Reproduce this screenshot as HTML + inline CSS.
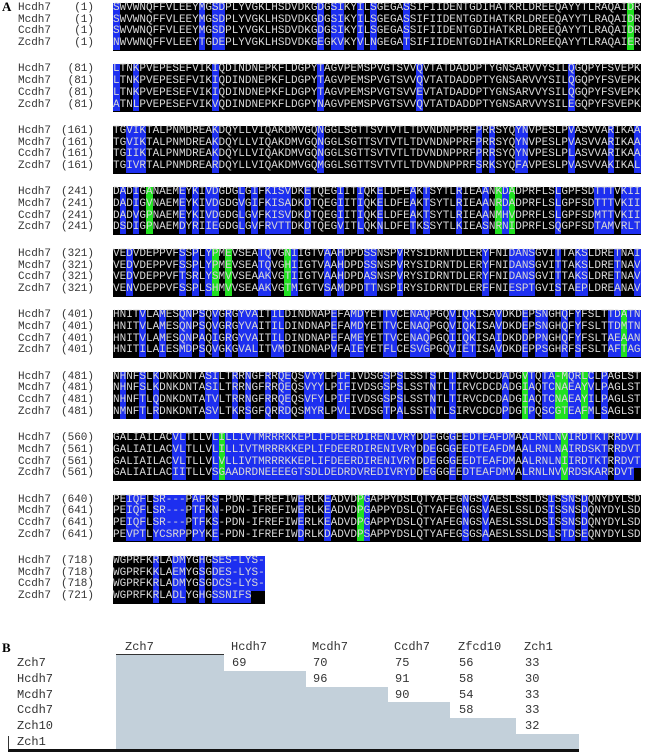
<!DOCTYPE html>
<html><head><meta charset="utf-8">
<style>
body{margin:0;width:646px;height:752px;background:#fff;position:relative;overflow:hidden;font-family:"Liberation Mono",monospace;}
.abs{position:absolute;white-space:pre;}
.lbl{font-size:11px;color:#333;line-height:11.7px;}
.band{position:absolute;background:#000;}
.seq{position:absolute;font-size:11px;line-height:11.7px;color:#d8d8d8;white-space:pre;}
.seq span{display:inline-block;width:6.6px;}
.b{background:#1d2ff0;}
.g{background:#20e020;}
.tb{font-size:12px;color:#333;}
</style></head><body>
<div class="abs" style="left:2px;top:-1px;font-family:'Liberation Serif',serif;font-weight:bold;font-size:13px;">A</div>
<div id="panelA"></div>
<div class="abs" style="left:2px;top:640px;font-family:'Liberation Serif',serif;font-weight:bold;font-size:13px;">B</div>
<div id="panelB"></div>
<script>
const names=["Hcdh7","Mcdh7","Ccdh7","Zcdh7"];
const starts=[["1","1","1","1"],["81","81","81","81"],["161","161","161","161"],["241","241","241","241"],["321","321","321","321"],["401","401","401","401"],["481","481","481","481"],["560","561","561","561"],["640","641","641","641"],["718","718","718","721"]];
const blocks=[
["SWVWNQFFVLEEYMGSDPLYVGKLHSDVDKGDGSIKYILSGEGASSIFIIDENTGDIHATKRLDREEQAYYTLRAQAIDR",
"SWVWNQFFVLEEYMGSDPLYVGKLHSDVDKGDGSIKYILSGEGASSIFIIDENTGDIHATKRLDREEQAYYTLRAQAIDR",
"SWVWNQFFVLEEYMGSDPLYVGKLHSDVDKGDGSIKYILSGEGASSIFIIDENTGDIHATKRLDREEQAYYTLRAQAIDR",
"NWVWNQFFVLEEYTGDEPLYVGKLHSDVDKGEGKVKYVLNGEGATSIFIIDENTGDIHATKRLDREEQAYYTLRAQAIER"],
["LTNKPVEPESEFVIKIQDINDNEPKFLDGPYTAGVPEMSPVGTSVVQVTATDADDPTYGNSARVVYSILQGQPYFSVEPK",
"LTNKPVEPESEFVIKIQDINDNEPKFLDGPYTAGVPEMSPVGTSVVQVTATDADDPTYGNSARVVYSILQGQPYFSVEPK",
"LTNKPVEPESEFVIKIQDINDNEPKFLDGPYTAGVPEMSPVGTSVVEVTATDADDPTYGNSARVVYSILQGQPYFSVEPK",
"ATNLPVEPESEFVIKVQDINDNEPKFLDGPYNAGVPEMSPVGTSVVQVTATDADDPTYGNSARVVYSILEGQPYFSVEPK"],
["TGVIKTALPNMDREAKDQYLLVIQAKDMVGQNGGLSGTTSVTVTLTDVNDNPPRFPRRSYQYNVPESLPVASVVARIKAA",
"TGVIKTALPNMDREAKDQYLLVIQAKDMVGQNGGLSGTTSVTVTLTDVNDNPPRFPRRSYQYNVPESLPVASVVARIKAA",
"TGIIKTALPNMDREAKDQYLLVIQAKDMVGQNGGLSGTTSVTVTLTDVNDNPPRFPRRSYQYNVPESLPLASVVARIKAA",
"TGIVRTALPNMDREARDQYLLVIQAKDMVGQMGGLSGTTSVTVTLTDVNDNPPRFSRKSYQFAVPESLPVASVVAKIKAL"],
["DADIGANAEMEYKIVDGDGLGIFKISVDKETQEGIITIQKELDFEAKTSYTLRIEAANKDADPRFLSLGPFSDTTTVKII",
"DADIGVNAEMEYKIVDGDGVGIFKISADKDTQEGIITIQKELDFEAKTSYTLRIEAANRDADPRFLSLGPFSDTTTVKII",
"DADVGPNAEMEYKIVDGDGLGVFKISVDKDTQEGIITIQKELDFEAKTSYTLRIEAANMHVDPRFLSLGPFSDMTTVKII",
"DSDIGPNAEMDYRIIEGDGLGVFRVTTDKDTQEGVITLQKNLDFETKSSYTLKIEASNRNIDPRFLSQGPFSDTAMVRLT"],
["VEDVDEPPVFSSPLYPMEVSEATQVGNIIGTVAAHDPDSSNSPVRYSIDRNTDLERYFNIDANSGVITTAKSLDRETNAI",
"VEDVDEPPVFSSPLYPMEVSEATQVGHIIGTVAAHDPDSSNSPVRYSIDRNTDLERYFNIDANSGVITTAKSLDRETNAV",
"VEDVDEPPVFTSRLYSMVVSEAAKVGTIIGTVAAHDPDASNSPVRYSIDRNTDLERYFNIDANSGVITTAKSLDRETNAV",
"VENVDEPPVFSSPLSHMVVSEAAKVGTMIGTVSAMDPDTTNSPIRYSIDRNTDLERFFNIESPTGVISTAEPLDREANAV"],
["HNITVLAMESQNPSQVGRGYVAITILDINDNAPEFAMDYETTVCENAQPGQVIQKISAVDKDEPSNGHQFYFSLTTDATN",
"HNITVLAMESQNPSQVGRGYVAITILDINDNAPEFAMDYETTVCENAQPGQVIQKISAVDKDEPSNGHQFYFSLTTDMTN",
"HNITVLAMESQNPAQIGRGYVAITILDINDNAPEFAMEYETTVCENAQPGQIIQKISAIDKDDPPNGHQFYFSLTAEAAN",
"HNITILAIESMDPSQVGKGVALITVMDINDNAPVFAIEYETFLCESVGPGQVIETISAVDKDEPPSGHRFSFSLTAFTAG"],
["NHNFSLKDNKDNTASILTRRNGFRRQEQSVYYLPIFIVDSGSPSLSSTSTLTIRVCDCDADGVTQTA-MQRLCLPAGLST",
"NHNFSLKDNKDNTASILTRRNGFRRQEQSVYYLPIFIVDSGSPSLSSTNTLTIRVCDCDADGIAQTCNAEAYVLPAGLST",
"NHNFTLQDNKDNTATVLTRRNGFRRQEQSVFYLPIFIVDSGSPSLSSTNTLTIRVCDCDADGIAQTCNAEAYILPAGLST",
"NMNFTLRDNKDNTASVLTKRSGFQRRDQSMYRLPVLIVDSGTPALSSTNTLSIRVCDCDPDGTPQSCGTEAFMLSAGLST"],
["GALIAILACVLTLLVLILLIVTMRRRKKEPLIFDEERDIRENIVRYDDEGGGEEDTEAFDMAALRNLNVIRDTKTRRDVT",
"GALIAILACVLTLLVLILLIVTMRRRKKEPLIFDEERDIRENIVRYDDEGGGEEDTEAFDMAALRNLNAIRDSKTRRDVT",
"GALIAILACVLTLLVLVLLIVTMRRRKKEPLIFDEERDIRENIVRYDDEGGGEEDTEAFDMAALRNLNIIRDTKTRRDVT",
"GALIAILACIITLLVSGAADRDNEEEEGTSDLDEDRDVREDIVRYDDEGGGEEDTEAFDMVALRNLNVVRDSKARRDVT"],
["PEIQFLSR---PAFKS-PDN-IFREFIWERLKEADVDPGAPPYDSLQTYAFEGNGSVAESLSSLDSISSNSDQNYDYLSD",
"PEIQFLSR---PTFKN-PDN-IFREFIWERLKEADVDPGAPPYDSLQTYAFEGNGSVAESLSSLDSISSNSDQNYDYLSD",
"PEIQFLSR---PTFKS-PDN-IFREFIWERLKEADVDPGAPPYDSLQTYAFEGNGSVAESLSSLDSISSNSDQNYDYLSD",
"PEVPTLYCSRPPPYKE-PDN-IFREFIWDRLKDADVDPSAPPYDSLQTYAFEGSGSAAESLSSLDSLSTDSEQNYDYLSD"],
["WGPRFKRLADMYGHGSES-LYS-",
"WGPRFKKLAEMYGSGDES-LYS-",
"WGPRFKRLADMYGSGDCS-LYS-",
"WGPRFKRLADLYGHGSSNIFS"]
];
const greens=[[78],[],[],[5,58,60],[15,17,26],[77],[62,67,68,71],[16,68],[37],[]];
const blockTop0=3, blockStep=61.45, rowH=11.7, seqX=113, charW=6.6;
const A=document.getElementById('panelA');
blocks.forEach((blk,bi)=>{
  const top=blockTop0+bi*blockStep;
  const len=Math.max(...blk.map(s=>s.length));
  const band=document.createElement('div');
  band.className='band';
  
  
  band.style.left=seqX+'px';band.style.top=top+'px';
  band.style.width=(len*charW)+'px';band.style.height=(4*rowH+1)+'px';
  A.appendChild(band);
  blk.forEach((s,ri)=>{
    const y=top+ri*rowH;
    const n=document.createElement('div');
    n.className='abs lbl';
    
    
    n.style.left='18px';n.style.top=y+'px';
    n.textContent=names[ri];
    A.appendChild(n);
    const p=document.createElement('div');
    p.className='abs lbl';
    
    
    const st='('+starts[bi][ri]+')';
    p.style.left=(94-st.length*6.6)+'px';p.style.top=y+'px';
    p.textContent=st;
    A.appendChild(p);
    const r=document.createElement('div');
    r.className='seq';
    
    
    r.style.left=seqX+'px';r.style.top=y+'px';
    let h='';
    for(let c=0;c<s.length;c++){
      const col=blk.map(x=>x[c]);
      const diff=col.some(ch=>ch!==col[0]);
      let cls=greens[bi].includes(c)?'g':(diff?'b':'');
      h+='<span class="'+cls+'">'+s[c]+'</span>';
    }
    r.innerHTML=h;
    A.appendChild(r);
  });
});
// Panel B
const colHeads=["Zch7","Hcdh7","Mcdh7","Ccdh7","Zfcd10","Zch1"];
const rowHeads=["Zch7","Hcdh7","Mcdh7","Ccdh7","Zch10","Zch1"];
const identity=[[69,70,75,56,33],[96,91,58,30],[90,54,33],[58,33],[32],[]];
const colX=[116,224,306,388,450,516,579];
const textX=[125,231,312,394,458,524];
const rowTop=[655,671,687,702,718,734,749];
const B=document.getElementById('panelB');
colHeads.forEach((t,i)=>{
  const d=document.createElement('div');
  d.className='abs tb';
  
  
  d.style.left=textX[i]+'px';d.style.top='640px';d.textContent=t;B.appendChild(d);
});
const ul=document.createElement('div');


ul.style.cssText='position:absolute;left:116px;top:654px;width:108px;height:1px;background:#333;';
B.appendChild(ul);
rowHeads.forEach((t,i)=>{
  const g=document.createElement('div');
  
  
  g.style.cssText='position:absolute;background:#c3d0da;left:116px;top:'+rowTop[i]+'px;width:'+(colX[i+1]-116)+'px;height:'+(rowTop[i+1]-rowTop[i]+ (i<5?1:0))+'px;';
  B.appendChild(g);
  const d=document.createElement('div');
  d.className='abs tb';
  
  
  d.style.left='17px';d.style.top=(rowTop[i]+1)+'px';d.textContent=t;B.appendChild(d);
  identity[i].forEach((v,j)=>{
    const c=document.createElement('div');
    c.className='abs tb';
    
    
    c.style.left=(textX[i+1+j]+1)+'px';c.style.top=(rowTop[i]+1)+'px';c.textContent=v;B.appendChild(c);
  });
});
const bl=document.createElement('div');


bl.style.cssText='position:absolute;left:8px;top:749px;width:571px;height:3px;background:#111;';
B.appendChild(bl);
const ll=document.createElement('div');


ll.style.cssText='position:absolute;left:8px;top:736px;width:1px;height:14px;background:#333;';
B.appendChild(ll);
</script>
</body></html>
